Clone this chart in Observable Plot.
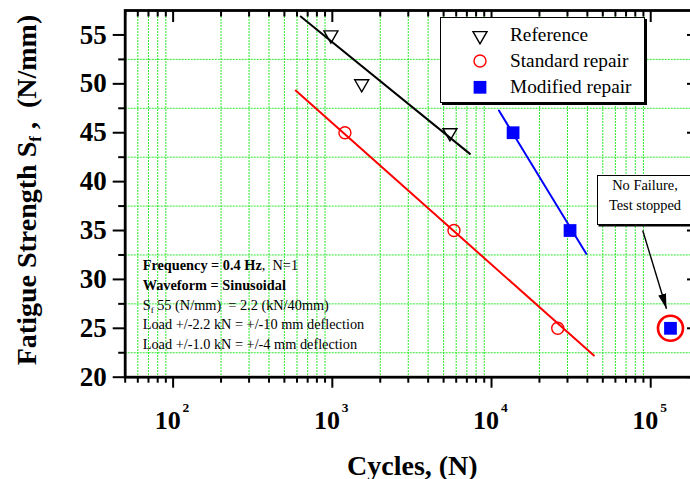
<!DOCTYPE html>
<html>
<head>
<meta charset="utf-8">
<script src="https://cdn.jsdelivr.net/npm/d3@7"></script>
<script src="https://cdn.jsdelivr.net/npm/@observablehq/plot@0.6"></script>
<style>
  body { margin: 0; background: #fff; }
  #wrap { position: relative; width: 690px; height: 479px; overflow: hidden;
          font-family: "Liberation Serif", "Times New Roman", serif; color: #000; }
  #wrap svg { display: block; }
  .legend { position: absolute; left: 440px; top: 17px; width: 203px; height: 84px;
            border: 1px solid #000; box-shadow: 2px 2px 0 #000; background: #fff; }
  .legend .item { position: absolute; left: 69px; font-size: 19.3px; line-height: 19.3px; white-space: nowrap; }
  .legend svg { position: absolute; left: 0; top: 0; }
  .note { position: absolute; left: 597px; top: 175px; width: 94px; height: 48px;
          border: 1px solid #000; box-shadow: 1.5px 1.5px 0 #000; background: #fff;
          text-align: center; font-size: 14.4px; line-height: 19.5px; }
  .anno { position: absolute; left: 142.7px; top: 256.2px; font-size: 14.3px; line-height: 19.75px; white-space: pre; }
  .anno sub { font-size: 9px; line-height: 0; vertical-align: -3px; }
</style>
</head>
<body>
<div id="wrap"></div>
<script>
// ---- data ----
const seriesNames = ["Reference", "Standard repair", "Modified repair"];

const refN = [980, 1530, 5480];
const refS = [55, 50, 45];
const stdN = [1200, 5810, 26060];
const stdS = [45, 35, 25];
const modN = [13660, 31140, 133100];
const modS = [45, 35, 25];
const modFailed = [true, true, false];

// fitted trend lines (end points)
const refFitN = [633, 7318];
const refFitS = [56.88, 42.84];
const stdFitN = [589, 43950];
const stdFitS = [49.31, 22.22];
const modFitN = [11130, 39360];
const modFitS = [47.27, 32.62];

// ticks
const xMajorTicks = [100, 1000, 10000, 100000];
const xTickExponents = ["2", "3", "4", "5"];
const xMinorTicks = [50, 60, 70, 80, 90,
  200, 300, 400, 500, 600, 700, 800, 900,
  2000, 3000, 4000, 5000, 6000, 7000, 8000, 9000,
  20000, 30000, 40000, 50000, 60000, 70000, 80000, 90000];
const yMajorTicks = [20, 25, 30, 35, 40, 45, 50, 55];
const yMinorTicks = [22.5, 27.5, 32.5, 37.5, 42.5, 47.5, 52.5];

// texts
const xLabel = "Cycles, (N)";
const yLabelMain = "Fatigue Strength S";
const yLabelSub = "f";
const yLabelRest = " ,  (N/mm)";
const noteLines = ["No Failure,", "Test stopped"];
const noteArrowFromN = [89100];
const noteArrowFromS = [35.0];
const noteArrowToN = [125600];
const noteArrowToS = [27.0];
const annotationLines = [
  "<b>Frequency = 0.4 Hz</b>,  N=1",
  "<b>Waveform = Sinusoidal</b>",
  "S<sub>f</sub> 55 (N/mm)  = 2.2 (kN/40mm)",
  "Load +/-2.2 kN = +/-10 mm deflection",
  "Load +/-1.0 kN = +/-4 mm deflection"
];

// ---- tables ----
const toRows = (N, S, extra) => N.map((n, i) => ({N: n, S: S[i], ...(extra ? extra(i) : {})}));
const refPts = toRows(refN, refS);
const stdPts = toRows(stdN, stdS);
const modPts = toRows(modN, modS, i => ({failed: modFailed[i]}));
const refFit = toRows(refFitN, refFitS);
const stdFit = toRows(stdFitN, stdFitS);
const modFit = toRows(modFitN, modFitS);
const noteArrow = noteArrowFromN.map((n, i) => ({x1: n, y1: noteArrowFromS[i], x2: noteArrowToN[i], y2: noteArrowToS[i]}));

const GREEN = "#2ee82e";
const gridStyle = {stroke: GREEN, strokeOpacity: 1, strokeWidth: 1, strokeDasharray: "2,1"};
const triR = 5.2, circR = 6, sqR = 7.2;

const plot = Plot.plot({
  width: 690,
  height: 479,
  marginLeft: 124.7,
  marginRight: -2,
  marginTop: 10,
  marginBottom: 102.3,
  style: {fontFamily: "'Liberation Serif','Times New Roman',serif", background: "#fff", color: "#000", overflow: "hidden"},
  x: {type: "log", domain: [50, 183000]},
  y: {domain: [20, 57.5]},
  marks: [
    Plot.gridX(xMinorTicks, gridStyle),
    Plot.gridY(yMinorTicks, gridStyle),

    Plot.line(refFit, {x: "N", y: "S", stroke: "black", strokeWidth: 2}),
    Plot.line(stdFit, {x: "N", y: "S", stroke: "#ff0000", strokeWidth: 2}),
    Plot.line(modFit, {x: "N", y: "S", stroke: "#0000ff", strokeWidth: 2}),

    Plot.dot(refPts, {x: "N", y: "S", symbol: "triangle", rotate: 180, r: triR, stroke: "black", strokeWidth: 1.4, fill: "none"}),
    Plot.dot(stdPts, {x: "N", y: "S", symbol: "circle", r: circR, stroke: "#ff0000", strokeWidth: 1.4, fill: "none"}),
    Plot.dot(modPts, {x: "N", y: "S", symbol: "square", r: sqR, fill: "#0000ff"}),
    Plot.dot(modPts.filter(d => !d.failed), {x: "N", y: "S", r: 12.5, stroke: "#ff0000", strokeWidth: 2.6, fill: "none"}),

    Plot.link(noteArrow, {x1: "x1", y1: "y1", x2: "x2", y2: "y2", stroke: "black", strokeWidth: 1.4, markerEnd: "arrow"}),

    // bottom axis
    Plot.axisX(xMajorTicks, {anchor: "bottom", tickSize: 11, strokeWidth: 2, tickFormat: () => "", label: null}),
    Plot.axisX(xMinorTicks, {anchor: "bottom", tickSize: 6, strokeWidth: 2, tickFormat: () => "", label: null}),
    // top axis (inward)
    Plot.axisX(xMajorTicks, {anchor: "top", tickSize: -11, strokeWidth: 2, tickFormat: () => "", label: null}),
    Plot.axisX(xMinorTicks, {anchor: "top", tickSize: -5.5, strokeWidth: 2, tickFormat: () => "", label: null}),
    // left axis
    Plot.axisY(yMajorTicks, {anchor: "left", tickSize: 12, tickPadding: 6.5, strokeWidth: 2, fontSize: 27, fontWeight: "bold", label: null}),
    Plot.axisY(yMinorTicks, {anchor: "left", tickSize: 6.5, strokeWidth: 2, tickFormat: () => "", label: null}),
    // right axis (inward)
    Plot.axisY(yMajorTicks, {anchor: "right", tickSize: -6, strokeWidth: 2, tickFormat: () => "", label: null}),

    // x tick labels 10^k
    Plot.text(xMajorTicks, {x: d => d, text: () => "10", frameAnchor: "bottom", dy: 51.6, dx: -5.4, lineAnchor: "bottom", fontSize: 26, fontWeight: "bold"}),
    Plot.text(xMajorTicks, {x: d => d, text: (d, i) => xTickExponents[i], frameAnchor: "bottom", dy: 35, dx: 9.5, textAnchor: "start", lineAnchor: "bottom", fontSize: 13.5, fontWeight: "bold"}),
    // x label
    Plot.text([xLabel], {frameAnchor: "bottom", dy: 97.3, dx: 3.5, lineAnchor: "bottom", fontSize: 28, fontWeight: "bold"}),

    Plot.frame({stroke: "black", strokeWidth: 2.8})
  ]
});

// filled arrow head
plot.querySelectorAll("marker").forEach(m => {
  while (m.firstChild) m.removeChild(m.firstChild);
  m.setAttribute("viewBox", "-15 -4.5 15 9");
  m.setAttribute("markerUnits", "userSpaceOnUse");
  m.setAttribute("markerWidth", "15");
  m.setAttribute("markerHeight", "9");
  m.setAttribute("refX", "0");
  m.setAttribute("refY", "0");
  m.setAttribute("orient", "auto");
  m.setAttribute("fill", "black");
  m.setAttribute("stroke", "none");
  const p = document.createElementNS("http://www.w3.org/2000/svg", "path");
  p.setAttribute("d", "M-15,-4L0,0L-15,4Z");
  m.appendChild(p);
});

// y label with subscript
const ylab = d3.select(plot).append("text")
  .attr("transform", "translate(35.5,190) rotate(-90)")
  .attr("text-anchor", "middle")
  .attr("font-size", 28)
  .attr("font-weight", "bold")
  .attr("fill", "black")
  .style("white-space", "pre");
ylab.append("tspan").text(yLabelMain);
ylab.append("tspan").attr("font-size", 17).attr("dy", 5).text(yLabelSub);
ylab.append("tspan").attr("dy", -5).text(yLabelRest);

const wrap = document.getElementById("wrap");
wrap.appendChild(plot);

// annotation text
const anno = document.createElement("div");
anno.className = "anno";
anno.innerHTML = annotationLines.map(l => `<div>${l}</div>`).join("");
wrap.appendChild(anno);

// note box
const note = document.createElement("div");
note.className = "note";
note.innerHTML = noteLines.map(l => `<div>${l}</div>`).join("");
wrap.appendChild(note);

// legend
const legend = document.createElement("div");
legend.className = "legend";
const symY = [17.7, 43, 69.3];
const txtTop = [6.7, 33.2, 59.0];
const lsvg = d3.create("svg").attr("width", 203).attr("height", 84);
lsvg.append("path").attr("transform", `translate(39,${symY[0]}) rotate(180)`)
  .attr("d", d3.symbol(d3.symbolTriangle, Math.PI * triR * triR)()).attr("fill", "none").attr("stroke", "black").attr("stroke-width", 1.4);
lsvg.append("path").attr("transform", `translate(39,${symY[1]})`)
  .attr("d", d3.symbol(d3.symbolCircle, Math.PI * circR * circR)()).attr("fill", "none").attr("stroke", "#ff0000").attr("stroke-width", 1.4);
lsvg.append("path").attr("transform", `translate(39,${symY[2]})`)
  .attr("d", d3.symbol(d3.symbolSquare, Math.PI * sqR * sqR)()).attr("fill", "#0000ff");
legend.appendChild(lsvg.node());
seriesNames.forEach((name, i) => {
  const it = document.createElement("div");
  it.className = "item";
  it.style.top = txtTop[i] + "px";
  it.textContent = name;
  legend.appendChild(it);
});
wrap.appendChild(legend);
</script>
</body>
</html>
